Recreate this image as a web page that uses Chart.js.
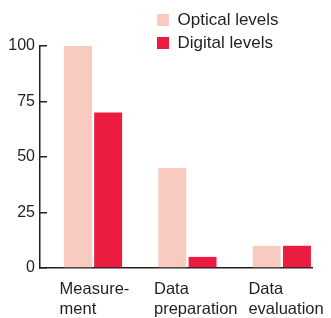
<!DOCTYPE html>
<html><head><meta charset="utf-8">
<script src="https://cdn.jsdelivr.net/npm/chart.js@4.4.0/dist/chart.umd.min.js"></script>
<style>html,body{margin:0;padding:0;background:#fff}</style>
</head><body>
<canvas id="c" width="331" height="318"></canvas>
<script>
// ---- data ----
const categories = [['Measure-', 'ment'], ['Data', 'preparation'], ['Data', 'evaluation']];
const seriesNames = ['Optical levels', 'Digital levels'];
const opticalLevels = [100, 45, 10];
const digitalLevels = [70, 5, 10];
const yTickValues = [0, 25, 50, 75, 100];

// ---- styles ----
const FONT = 'Liberation Sans, Arial, Helvetica, sans-serif';
const INK = '#231f20';
const colors = ['#F9CAC0', '#EC1B40'];

const toPoints = arr => arr.map((v, i) => ({ x: i, y: v }));

const legendPlacer = {
  id: 'legendPlacer',
  afterLayout(chart) {
    const lg = chart.legend;
    const left = 151, top = 5.5;
    lg.left = left; lg.top = top; lg.right = left + 180; lg.bottom = top + 80;
  }
};

new Chart(document.getElementById('c'), {
  type: 'bar',
  data: {
    datasets: [
      { label: seriesNames[0], data: toPoints(opticalLevels), backgroundColor: colors[0], borderWidth: 0 },
      { label: seriesNames[1], data: toPoints(digitalLevels), backgroundColor: colors[1], borderWidth: 0 }
    ]
  },
  plugins: [legendPlacer],
  options: {
    responsive: false,
    animation: false,
    devicePixelRatio: 1,
    layout: { padding: { top: 46, right: 19, bottom: 0, left: 0 } },
    categoryPercentage: 0.641,
    barPercentage: 0.924,
    plugins: {
      legend: {
        position: 'chartArea',
        align: 'start',
        labels: {
          boxWidth: 12, boxHeight: 12, padding: 6,
          color: INK,
          font: { family: FONT, size: 17 }
        }
      },
      tooltip: { enabled: false }
    },
    scales: {
      x: {
        type: 'linear',
        offset: false,
        min: -0.5617,
        max: 2.3197,
        afterBuildTicks: s => { s.ticks = categories.map((_, i) => ({ value: i })); },
        afterFit: s => { s.height = 50; s.paddingLeft = 0; s.paddingRight = 0; },
        grid: { display: false, drawTicks: false, offset: false },
        border: { display: true, color: INK, width: 1.5 },
        ticks: {
          align: 'start',
          labelOffset: -33.4,
          padding: 12,
          maxRotation: 0,
          autoSkip: false,
          color: INK,
          font: { family: FONT, size: 16.5, lineHeight: 1.2 },
          callback: v => categories[v]
        }
      },
      y: {
        min: 0,
        max: 100,
        afterBuildTicks: s => { s.ticks = yTickValues.map(v => ({ value: v })); },
        afterFit: s => { s.width = 40; },
        grid: { display: true, drawOnChartArea: false, drawTicks: true, tickLength: -7, color: INK, lineWidth: 1.5 },
        border: { display: true, color: INK, width: 1.5 },
        ticks: {
          padding: 12,
          color: INK,
          font: { family: FONT, size: 16 }
        }
      }
    }
  }
});
</script>
</body></html>
